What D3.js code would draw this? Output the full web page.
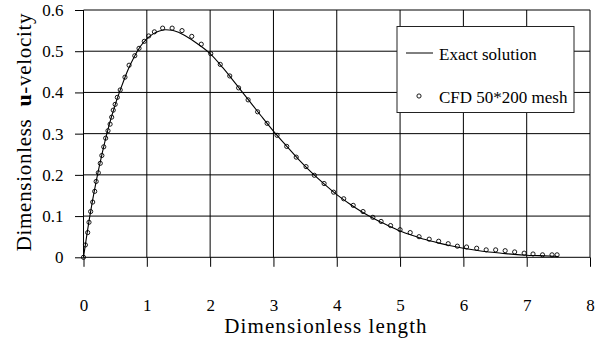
<!DOCTYPE html>
<html>
<head>
<meta charset="utf-8">
<script src="https://cdn.jsdelivr.net/npm/d3@7"></script>
<style>
  html, body { margin: 0; padding: 0; background: #fff; }
  svg { display: block; font-family: "Liberation Serif", "Times New Roman", serif; }
</style>
</head>
<body>
<svg id="chart" width="596" height="341"></svg>
<script>
// ---- data ----
const xTicks = [0, 1, 2, 3, 4, 5, 6, 7, 8];
const xTickLabels = ["0", "1", "2", "3", "4", "5", "6", "7", "8"];
const yTicks = [0, 0.1, 0.2, 0.3, 0.4, 0.5, 0.6];
const yTickLabels = ["0", "0.1", "0.2", "0.3", "0.4", "0.5", "0.6"];

const exactX = [0, 0.1, 0.2, 0.3, 0.4, 0.5, 0.6, 0.7, 0.8, 0.9, 1.0, 1.1, 1.2, 1.3, 1.4, 1.5, 1.6, 1.8, 2.0, 2.2, 2.4, 2.6, 2.8, 3.0, 3.2, 3.4, 3.6, 3.8, 4.0, 4.2, 4.4, 4.6, 4.8, 5.0, 5.2, 5.4, 5.6, 5.8, 6.0, 6.2, 6.4, 6.6, 6.8, 7.0, 7.2, 7.5];
const exactU = [0, 0.100, 0.184, 0.256, 0.318, 0.370, 0.414, 0.454, 0.486, 0.512, 0.530, 0.542, 0.549, 0.552, 0.551, 0.546, 0.538, 0.518, 0.494, 0.460, 0.422, 0.383, 0.344, 0.306, 0.271, 0.237, 0.206, 0.178, 0.152, 0.130, 0.110, 0.093, 0.078, 0.064, 0.053, 0.043, 0.035, 0.028, 0.022, 0.017, 0.013, 0.010, 0.007, 0.005, 0.004, 0.002];

const cfdX = [0, 0.03, 0.066, 0.087, 0.113, 0.145, 0.177, 0.20, 0.234, 0.265, 0.29, 0.32, 0.35, 0.387, 0.42, 0.445, 0.47, 0.50, 0.534, 0.58, 0.655, 0.72, 0.81, 0.877, 0.96, 1.03, 1.12, 1.25, 1.40, 1.556, 1.71, 1.86, 2.01, 2.16, 2.31, 2.45, 2.60, 2.75, 2.90, 3.057, 3.21, 3.36, 3.515, 3.646, 3.80, 3.95, 4.11, 4.26, 4.415, 4.57, 4.70, 4.85, 5.0, 5.16, 5.30, 5.46, 5.61, 5.76, 5.905, 6.05, 6.21, 6.36, 6.51, 6.66, 6.81, 6.96, 7.10, 7.25, 7.40, 7.48];
const cfdU = [0, 0.030, 0.060, 0.085, 0.111, 0.134, 0.160, 0.184, 0.205, 0.228, 0.247, 0.268, 0.289, 0.307, 0.323, 0.340, 0.357, 0.371, 0.388, 0.406, 0.437, 0.466, 0.489, 0.507, 0.524, 0.537, 0.547, 0.556, 0.556, 0.550, 0.536, 0.517, 0.494, 0.468, 0.440, 0.411, 0.382, 0.353, 0.325, 0.296, 0.269, 0.243, 0.220, 0.199, 0.179, 0.158, 0.142, 0.126, 0.111, 0.097, 0.087, 0.077, 0.067, 0.060, 0.050, 0.044, 0.039, 0.033, 0.027, 0.025, 0.022, 0.018, 0.018, 0.016, 0.013, 0.010, 0.008, 0.006, 0.006, 0.006];

const seriesNames = ["Exact solution", "CFD 50*200 mesh"];
const xTitle = "Dimensionless length";
const yTitleParts = ["Dimensionless", "u", "-velocity"];

// ---- drawing ----
const svg = d3.select("#chart");
svg.append("rect").attr("width", 596).attr("height", 341).attr("fill", "#fff");

const x = d3.scaleLinear().domain([0, 8]).range([83.5, 590]);
const y = d3.scaleLinear().domain([0, 0.6]).range([257.3, 10]);

// grid
const grid = svg.append("g").attr("stroke", "#000").attr("stroke-width", 1);
grid.selectAll("line.h").data(yTicks).join("line")
  .attr("x1", x(0)).attr("x2", x(8))
  .attr("y1", d => y(d)).attr("y2", d => y(d));
grid.selectAll("line.v").data(xTicks).join("line")
  .attr("x1", d => x(d)).attr("x2", d => x(d))
  .attr("y1", y(0.6)).attr("y2", y(0));

// x axis
const xAxis = d3.axisBottom(x)
  .tickValues(xTicks)
  .tickFormat((d, i) => xTickLabels[i])
  .tickSize(9.5).tickSizeOuter(0).tickPadding(32);
const gx = svg.append("g").attr("transform", `translate(0,${y(0)})`).call(xAxis);
gx.select(".domain").remove();
gx.selectAll("line").attr("stroke", "#000");
gx.selectAll("text").attr("fill", "#000").style("font-size", "17px")
  .style("font-family", "Liberation Serif, serif");

// y axis
const yAxis = d3.axisLeft(y)
  .tickValues(yTicks)
  .tickFormat((d, i) => yTickLabels[i])
  .tickSize(8.5).tickSizeOuter(0).tickPadding(11.5);
const gy = svg.append("g").attr("transform", `translate(${x(0)},0)`).call(yAxis);
gy.select(".domain").remove();
gy.selectAll("line").attr("stroke", "#000");
gy.selectAll("text").attr("fill", "#000").style("font-size", "17px")
  .style("font-family", "Liberation Serif, serif");

// exact solution line
const exactData = exactX.map((d, i) => [d, exactU[i]]);
svg.append("path").datum(exactData)
  .attr("fill", "none").attr("stroke", "#000").attr("stroke-width", 1.1)
  .attr("d", d3.line().x(d => x(d[0])).y(d => y(d[1])).curve(d3.curveMonotoneX));

// CFD points
const cfdData = cfdX.map((d, i) => [d, cfdU[i]]);
svg.append("g").selectAll("circle").data(cfdData).join("circle")
  .attr("cx", d => x(d[0])).attr("cy", d => y(d[1])).attr("r", 2.1)
  .attr("fill", "none").attr("stroke", "#000").attr("stroke-width", 0.9);

// legend
const lg = svg.append("g");
lg.append("rect").attr("x", 397).attr("y", 26.5).attr("width", 177).attr("height", 86)
  .attr("fill", "#fff").attr("stroke", "#222").attr("stroke-width", 1);
lg.append("line").attr("x1", 406).attr("x2", 433).attr("y1", 53).attr("y2", 53)
  .attr("stroke", "#000").attr("stroke-width", 1);
lg.append("text").attr("x", 439).attr("y", 60).text(seriesNames[0])
  .style("font-size", "17px").attr("fill", "#000");
lg.append("circle").attr("cx", 419).attr("cy", 96).attr("r", 2.1)
  .attr("fill", "none").attr("stroke", "#000").attr("stroke-width", 0.9);
lg.append("text").attr("x", 439).attr("y", 103).text(seriesNames[1])
  .style("font-size", "17px").attr("fill", "#000");

// x title
svg.append("text").attr("x", 326).attr("y", 333).attr("text-anchor", "middle")
  .style("font-size", "21px").style("letter-spacing", "1.1px")
  .attr("fill", "#000").text(xTitle);

// y title
const yt = svg.append("text").attr("transform", "translate(31,132) rotate(-90)")
  .attr("text-anchor", "middle").style("font-size", "21px")
  .style("letter-spacing", "0.7px").attr("fill", "#000");
yt.append("tspan").text(yTitleParts[0]);
yt.append("tspan").attr("dx", 12).style("font-weight", "bold").style("font-size", "22px").text(yTitleParts[1]);
yt.append("tspan").text(yTitleParts[2]);
</script>
</body>
</html>
